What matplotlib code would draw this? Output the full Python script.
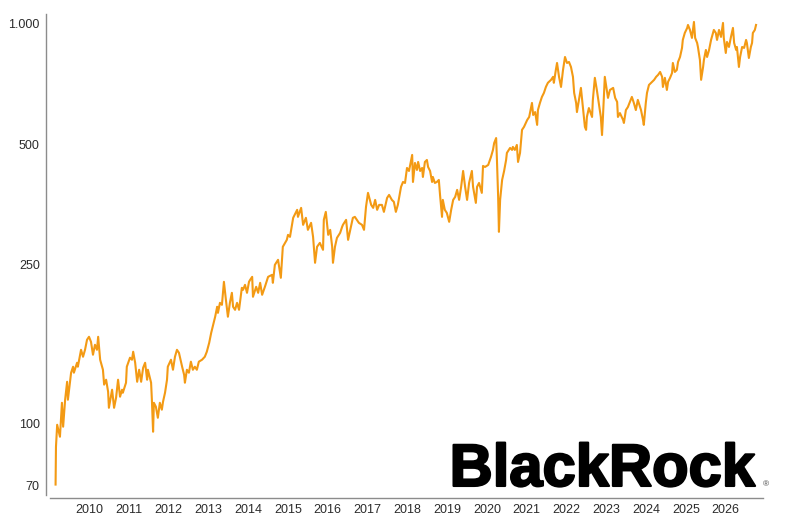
import matplotlib.pyplot as plt
import matplotlib.patheffects as pe
from matplotlib.ticker import FixedLocator, NullLocator

# Index level (fractional year, value)
years = [
    2009.16, 2009.17, 2009.20, 2009.27, 2009.32, 2009.35, 2009.40, 2009.45, 2009.47, 2009.55,
    2009.60, 2009.62, 2009.70, 2009.72, 2009.80, 2009.85, 2009.90, 2009.95, 2010.00, 2010.05,
    2010.10, 2010.15, 2010.20, 2010.23, 2010.28, 2010.35, 2010.38, 2010.43, 2010.48, 2010.50,
    2010.58, 2010.63, 2010.68, 2010.73, 2010.78, 2010.83, 2010.85, 2010.93, 2010.95, 2011.03,
    2011.08, 2011.11, 2011.16, 2011.21, 2011.26, 2011.31, 2011.36, 2011.41, 2011.46, 2011.48,
    2011.56, 2011.58, 2011.61, 2011.63, 2011.68, 2011.73, 2011.78, 2011.83, 2011.86, 2011.91,
    2011.96, 2011.98, 2012.06, 2012.11, 2012.16, 2012.21, 2012.26, 2012.34, 2012.39, 2012.41,
    2012.46, 2012.51, 2012.56, 2012.61, 2012.66, 2012.71, 2012.76, 2012.84, 2012.91, 2012.96,
    2013.02, 2013.07, 2013.12, 2013.17, 2013.22, 2013.24, 2013.29, 2013.34, 2013.39, 2013.44,
    2013.49, 2013.54, 2013.59, 2013.62, 2013.67, 2013.72, 2013.77, 2013.84, 2013.87, 2013.92,
    2013.97, 2014.02, 2014.05, 2014.10, 2014.12, 2014.20, 2014.25, 2014.30, 2014.35, 2014.42,
    2014.50, 2014.60, 2014.62, 2014.67, 2014.75, 2014.82, 2014.87, 2014.97, 2015.00, 2015.05,
    2015.13, 2015.23, 2015.25, 2015.33, 2015.38, 2015.45, 2015.50, 2015.58, 2015.63, 2015.68,
    2015.73, 2015.80, 2015.88, 2015.90, 2015.95, 2016.01, 2016.06, 2016.11, 2016.13, 2016.18,
    2016.23, 2016.31, 2016.36, 2016.38, 2016.46, 2016.51, 2016.58, 2016.63, 2016.68, 2016.73,
    2016.78, 2016.86, 2016.91, 2016.96, 2017.01, 2017.09, 2017.14, 2017.19, 2017.24, 2017.29,
    2017.36, 2017.41, 2017.49, 2017.54, 2017.61, 2017.66, 2017.71, 2017.76, 2017.84, 2017.89,
    2017.94, 2017.99, 2018.04, 2018.12, 2018.14, 2018.19, 2018.24, 2018.27, 2018.32, 2018.37,
    2018.39, 2018.44, 2018.49, 2018.52, 2018.57, 2018.62, 2018.64, 2018.69, 2018.74, 2018.79,
    2018.82, 2018.87, 2018.89, 2018.94, 2018.99, 2019.05, 2019.10, 2019.15, 2019.20, 2019.25,
    2019.30, 2019.35, 2019.40, 2019.45, 2019.50, 2019.55, 2019.62, 2019.65, 2019.72, 2019.75,
    2019.80, 2019.87, 2019.90, 2019.95, 2020.03, 2020.10, 2020.15, 2020.18, 2020.23, 2020.25,
    2020.28, 2020.30, 2020.33, 2020.38, 2020.43, 2020.48, 2020.50, 2020.58, 2020.63, 2020.65,
    2020.70, 2020.75, 2020.78, 2020.83, 2020.88, 2020.93, 2021.01, 2021.06, 2021.13, 2021.16,
    2021.21, 2021.26, 2021.28, 2021.33, 2021.38, 2021.43, 2021.48, 2021.53, 2021.61, 2021.66,
    2021.68, 2021.73, 2021.76, 2021.81, 2021.86, 2021.91, 2021.96, 2022.01, 2022.06, 2022.11,
    2022.16, 2022.19, 2022.24, 2022.26, 2022.31, 2022.36, 2022.41, 2022.46, 2022.49, 2022.51,
    2022.56, 2022.64, 2022.66, 2022.71, 2022.76, 2022.79, 2022.86, 2022.89, 2022.91, 2022.96,
    2023.02, 2023.04, 2023.09, 2023.17, 2023.22, 2023.27, 2023.29, 2023.34, 2023.42, 2023.44,
    2023.49, 2023.54, 2023.59, 2023.64, 2023.69, 2023.74, 2023.79, 2023.87, 2023.92, 2023.94,
    2023.99, 2024.02, 2024.07, 2024.15, 2024.20, 2024.25, 2024.30, 2024.35, 2024.40, 2024.42,
    2024.47, 2024.52, 2024.55, 2024.60, 2024.65, 2024.67, 2024.72, 2024.77, 2024.80, 2024.85,
    2024.90, 2024.92, 2024.97, 2025.03, 2025.05, 2025.10, 2025.15, 2025.18, 2025.20, 2025.23,
    2025.28, 2025.30, 2025.35, 2025.38, 2025.43, 2025.45, 2025.50, 2025.53, 2025.58, 2025.63,
    2025.68, 2025.70, 2025.75, 2025.78, 2025.83, 2025.88, 2025.93, 2025.95, 2026.00, 2026.03,
    2026.08, 2026.13, 2026.18, 2026.21, 2026.26, 2026.28, 2026.33, 2026.36, 2026.41, 2026.46,
    2026.51, 2026.53, 2026.58, 2026.63, 2026.66, 2026.68, 2026.73, 2026.76,
]
values = [
    70.2, 87.3, 99.1, 92.5, 112.5, 98.0, 114.5, 127.0, 114.5, 133.8,
    138.5, 133.8, 141.7, 138.5, 152.7, 146.7, 152.7, 161.8, 164.6, 159.9,
    148.4, 157.2, 152.7, 164.6, 144.2, 136.1, 124.9, 128.5, 119.9, 109.3,
    121.3, 109.3, 115.8, 128.5, 116.5, 121.3, 119.2, 126.3, 138.5, 145.9,
    144.2, 151.0, 141.7, 127.0, 136.1, 127.0, 137.7, 141.7, 128.5, 136.1,
    126.3, 114.5, 95.2, 112.5, 110.0, 103.2, 112.5, 108.1, 113.2, 119.2,
    128.5, 138.5, 144.2, 136.1, 146.7, 152.7, 150.1, 138.5, 132.2, 126.3,
    136.1, 133.8, 142.6, 136.1, 138.5, 136.1, 142.6, 144.2, 146.7, 151.0,
    159.0, 168.4, 176.4, 184.8, 195.7, 189.0, 200.2, 197.9, 226.0, 203.7,
    184.8, 200.2, 212.1, 195.7, 192.3, 200.2, 192.3, 218.3, 215.8, 222.1,
    212.1, 226.0, 228.7, 232.6, 207.3, 219.6, 212.1, 224.7, 209.7, 219.6,
    232.6, 235.3, 224.7, 249.2, 256.6, 231.3, 276.6, 287.9, 296.3, 292.9,
    326.9, 342.3, 328.7, 346.2, 313.9, 326.9, 305.0, 317.6, 292.9, 252.2,
    276.6, 282.9, 271.8, 323.1, 338.3, 296.3, 305.0, 276.6, 252.2, 276.6,
    291.2, 299.7, 310.3, 313.9, 323.1, 287.9, 310.3, 326.9, 328.7, 323.1,
    317.6, 313.9, 305.0, 348.2, 377.5, 352.2, 346.2, 362.5, 342.3, 352.2,
    352.2, 338.3, 366.7, 373.1, 362.5, 358.4, 338.3, 352.2, 390.8, 402.0,
    399.7, 435.8, 428.3, 469.8, 402.0, 448.6, 430.8, 451.2, 428.3, 435.8,
    413.8, 451.2, 456.4, 438.3, 428.3, 402.0, 413.8, 399.7, 402.0, 406.7,
    373.1, 328.7, 362.5, 342.3, 336.4, 319.4, 342.3, 362.5, 368.8, 384.1,
    362.5, 390.8, 428.3, 390.8, 362.5, 399.7, 428.3, 390.8, 356.3, 390.8,
    399.7, 377.5, 440.9, 438.3, 443.4, 464.4, 483.6, 503.2, 517.9, 456.4,
    368.8, 301.5, 362.5, 406.7, 428.3, 456.4, 475.3, 489.2, 483.6, 492.0,
    483.6, 497.7, 451.2, 475.3, 542.9, 552.3, 574.8, 584.8, 634.0, 591.5,
    601.6, 558.7, 608.6, 634.0, 656.5, 671.8, 695.4, 712.1, 724.5, 737.1,
    712.1, 767.0, 798.4, 737.1, 695.4, 767.0, 826.5, 798.4, 803.1, 780.3,
    737.1, 671.8, 634.0, 601.6, 645.3, 691.5, 619.2, 552.3, 542.9, 584.8,
    615.6, 584.8, 645.3, 732.9, 683.5, 652.8, 584.8, 526.9, 574.8, 737.1,
    671.8, 652.8, 683.5, 691.5, 652.8, 637.9, 584.8, 598.1, 574.8, 564.9,
    608.6, 619.2, 637.9, 656.5, 634.0, 608.6, 645.3, 608.6, 574.8, 558.7,
    634.0, 671.8, 703.5, 716.2, 724.5, 737.1, 745.7, 758.2, 737.1, 695.4,
    732.9, 683.5, 716.2, 732.9, 753.8, 798.4, 758.2, 767.0, 803.1, 826.5,
    870.7, 911.9, 949.4, 977.2, 994.2, 966.0, 922.5, 977.2, 1011.6, 922.5,
    896.2, 875.7, 812.4, 724.5, 780.3, 812.4, 860.7, 826.5, 860.7, 911.9,
    949.4, 966.0, 949.4, 911.9, 966.0, 927.8, 1005.8, 922.5, 845.9, 901.4,
    875.7, 927.8, 977.2, 896.2, 860.7, 875.7, 780.3, 826.5, 875.7, 870.7,
    911.9, 896.2, 821.8, 875.7, 896.2, 949.4, 966.0, 994.2,
]

tick_years = list(range(2010, 2027))
y_ticks = [70, 100, 250, 500, 1000]
y_tick_labels = ['70', '100', '250', '500', '1.000']

plt.rcParams['font.family'] = ['Liberation Sans', 'DejaVu Sans']

fig = plt.figure(figsize=(8, 5.2), dpi=100)
ax = fig.add_axes([0.0625, 0.04808, 0.89125, 0.925])

ax.plot(years, values, color='#F39A14', linewidth=1.5, solid_joinstyle='round')

ax.set_yscale('log')
ax.set_ylim(66.1, 1059)
ax.set_xlim(2009.02, 2026.935)

ax.yaxis.set_major_locator(FixedLocator(y_ticks))
ax.yaxis.set_minor_locator(NullLocator())
ax.set_yticklabels(y_tick_labels)
ax.set_xticks(tick_years)
ax.set_xticklabels([str(y) for y in tick_years])

ax.tick_params(axis='both', length=0, labelsize=9, labelcolor='#2b2b2b')
ax.tick_params(axis='y', pad=4.5)
ax.tick_params(axis='x', pad=4)

for side in ['top', 'right']:
    ax.spines[side].set_visible(False)
ax.spines['left'].set_position(('outward', 2.9))
ax.spines['bottom'].set_position(('outward', 2.2))
for side in ['left', 'bottom']:
    ax.spines[side].set_color('#8c8c8c')
    ax.spines[side].set_linewidth(1.0)

# BlackRock wordmark
fig.text(0.562, 0.0655, 'BlackRock', fontsize=43, fontweight='bold',
         color='black', ha='left', va='baseline',
         path_effects=[pe.withStroke(linewidth=1.6, foreground='black')])
fig.text(0.954, 0.0655, '®', fontsize=6, color='#444444', ha='left', va='baseline')

fig.savefig('out.png', dpi=100)
